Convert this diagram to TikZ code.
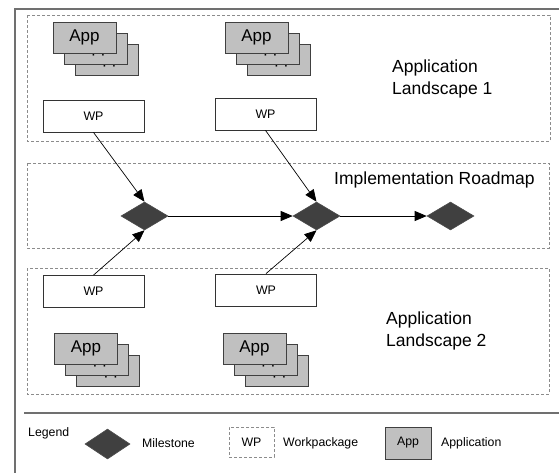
\documentclass[tikz,border=0pt]{standalone}
\usepackage{fontspec}
\setmainfont{Liberation Sans}
\usetikzlibrary{shapes.geometric,arrows.meta}
\definecolor{appgray}{HTML}{C0C0C0}
\definecolor{msgray}{HTML}{404040}
\definecolor{framegray}{HTML}{707070}
\definecolor{dashgray}{HTML}{8C8C8C}
\tikzset{
  region/.style={draw=dashgray, line width=0.8pt, dash pattern=on 3pt off 2pt},
  appbox/.style={draw=black!75, fill=appgray, line width=0.9pt, minimum width=63pt, minimum height=31pt, inner sep=0pt, font=\fontsize{17}{20}\selectfont},
  wpbox/.style={draw=black!80, fill=white, line width=0.8pt, minimum width=101pt, minimum height=32pt, inner sep=0pt, font=\fontsize{12.4}{15}\selectfont},
  milestone/.style={diamond, draw=black!70, fill=msgray, line width=0.6pt, minimum width=47pt, minimum height=28pt, inner sep=0pt},
  conn/.style={draw=black, line width=0.7pt, -{Triangle[length=12pt,width=10pt]}},
  bigtext/.style={font=\fontsize{17.5}{22}\selectfont, align=left, anchor=west, inner sep=0pt},
  legtext/.style={font=\fontsize{12.3}{15}\selectfont, anchor=west, inner sep=0pt},
}
\newcommand{\appstack}[3]{%
  \node[appbox] (#1c) at (#2+22,#3+22) {App};
  \node[appbox] (#1b) at (#2+11,#3+11) {App};
  \node[appbox] (#1a) at (#2,#3) {App};
}
\begin{document}
\begin{tikzpicture}[x=1pt,y=-1pt]
\useasboundingbox (0,0) rectangle (559,472);
\clip (0,0) rectangle (559,472);
\fill[white] (0,0) rectangle (559,472);
% outer frame
\draw[framegray, line width=2pt] (15,490) -- (15,9) -- (580,9);
% regions
\draw[region] (27,15) rectangle (550,141);
\draw[region] (27,163) rectangle (549,248);
\draw[region] (27,268) rectangle (549,394);
% separator
\draw[framegray, line width=2pt] (24,412.5) -- (580,412.5);
% labels
\node[bigtext] (l1) at (392,79) {Application\\Landscape 1};
\node[bigtext] (rm) at (334,180) {Implementation Roadmap};
\node[bigtext] (l2) at (386,331) {Application\\Landscape 2};
% app stacks
\appstack{sa}{84.5}{37.5}
\appstack{sb}{256.5}{37.5}
\appstack{sc}{86}{348.5}
\appstack{sd}{254.5}{348.5}
% work packages
\node[wpbox] (wp1) at (93.5,116) {WP};
\node[wpbox] (wp2) at (265.5,114) {WP};
\node[wpbox] (wp3) at (93.5,291.5) {WP};
\node[wpbox] (wp4) at (266,290) {WP};
% milestones
\node[milestone] (m1) at (144.5,216) {};
\node[milestone] (m2) at (316.5,216) {};
\node[milestone] (m3) at (450.5,216) {};
% connectors
\draw[conn] (wp1.south) -- (m1.north);
\draw[conn] (wp3.north) -- (m1.south);
\draw[conn] (wp2.south) -- (m2.north);
\draw[conn] (wp4.north) -- (m2.south);
\draw[conn] (m1.east) -- (m2.west);
\draw[conn] (m2.east) -- (m3.west);
% legend
\node[legtext] (leg) at (28,433) {Legend};
\node[milestone, minimum width=45pt, minimum height=30pt] (lm) at (107.5,444) {};
\node[legtext] (lmt) at (142,443.5) {Milestone};
\node[draw=dashgray, line width=0.8pt, dash pattern=on 3pt off 2pt, minimum width=45pt, minimum height=30pt, inner sep=0pt, font=\fontsize{12.3}{15}\selectfont] (lwp) at (251.5,442) {WP};
\node[legtext] (lwpt) at (283,443.5) {Workpackage};
\node[draw=black!75, fill=appgray, line width=0.9pt, minimum width=46pt, minimum height=32pt, inner sep=0pt, font=\fontsize{12.3}{15}\selectfont] (lapp) at (408,443) {App};
\node[legtext] (lappt) at (441,443.5) {Application};
\end{tikzpicture}
\end{document}
